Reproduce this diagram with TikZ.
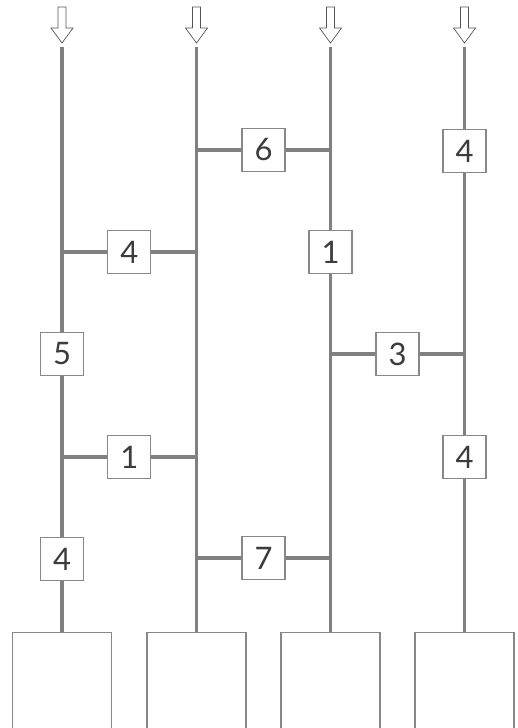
\documentclass[tikz,border=0pt]{standalone}
\usepackage{fontspec}
\setmainfont{Lato}
\usepackage{tikz}
\definecolor{railgray}{RGB}{128,128,128}
\definecolor{boxgray}{RGB}{136,136,136}
\definecolor{digitgray}{RGB}{60,60,60}
\definecolor{arrowgray}{RGB}{85,85,85}

\begin{document}
\begin{tikzpicture}[x=1pt,y=-1pt,
    rail/.style={line width=3.5pt,railgray},
    weight/.style={draw=boxgray,line width=1.3pt,fill=white,minimum width=43pt,minimum height=43pt,
        inner sep=0pt,text=digitgray,font=\fontsize{31}{33}\selectfont},
    sink/.style={draw=boxgray,line width=1.3pt,fill=white,minimum width=99pt,minimum height=110pt,
        anchor=north,inner sep=0pt},
    inflow/.style={draw=arrowgray,line width=0.7pt,fill=white,line join=miter}]
    \useasboundingbox (0,0) rectangle (517,728);
    \clip (0,0) rectangle (517,728);

    % Input arrows
    \foreach \c in {62,196.5,330.5,464.5}
        \draw[inflow] (\c-4,7) -- (\c+4,7) -- (\c+4,28) -- (\c+11,28) -- (\c,43)
            -- (\c-11,28) -- (\c-4,28) -- cycle;

    % Column tops
    \coordinate (t1) at (62,47);
    \coordinate (t2) at (196.5,47);
    \coordinate (t3) at (330.5,47);
    \coordinate (t4) at (464.5,47);

    % Output boxes
    \node[sink] (b1) at (62,632) {};
    \node[sink] (b2) at (196.5,632) {};
    \node[sink] (b3) at (330.5,632) {};
    \node[sink] (b4) at (464.5,632) {};

    % Rails
    \draw[rail] (t1) -- (b1.north);
    \draw[rail] (t2) -- (b2.north);
    \draw[rail] (t3) -- (b3.north);
    \draw[rail] (t4) -- (b4.north);

    % Weights on the rails
    \node[weight] (w4a) at (464.5,151) {4};
    \node[weight] (w1a) at (330.5,252) {1};
    \node[weight] (w5) at (62,354) {5};
    \node[weight] (w4c) at (464.5,457) {4};
    \node[weight] (w4d) at (62,559) {4};

    % Weights between rails
    \node[weight] (w6) at (263.5,150) {6};
    \draw[rail] (w6.west) -- (w6.west -| t2);
    \draw[rail] (w6.east) -- (w6.east -| t3);

    \node[weight] (w4b) at (129.25,252) {4};
    \draw[rail] (w4b.west) -- (w4b.west -| t1);
    \draw[rail] (w4b.east) -- (w4b.east -| t2);

    \node[weight] (w3) at (397.5,354) {3};
    \draw[rail] (w3.west) -- (w3.west -| t3);
    \draw[rail] (w3.east) -- (w3.east -| t4);

    \node[weight] (w1b) at (129.25,457) {1};
    \draw[rail] (w1b.west) -- (w1b.west -| t1);
    \draw[rail] (w1b.east) -- (w1b.east -| t2);

    \node[weight] (w7) at (263.5,558) {7};
    \draw[rail] (w7.west) -- (w7.west -| t2);
    \draw[rail] (w7.east) -- (w7.east -| t3);
\end{tikzpicture}
\end{document}
